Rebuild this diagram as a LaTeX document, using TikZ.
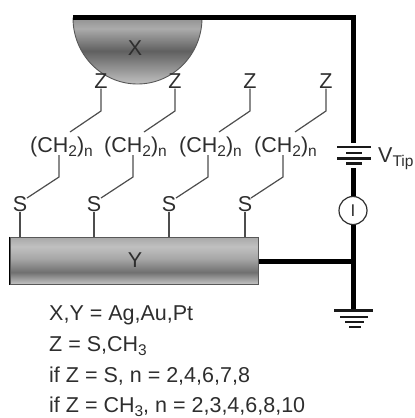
\documentclass[tikz,border=0pt]{standalone}
\usepackage{fontspec}
\setmainfont{Liberation Sans}
\definecolor{tipgrayA}{HTML}{929292}
\definecolor{tipgrayC}{HTML}{ABABAB}
\definecolor{tipgrayD}{HTML}{606060}
\definecolor{tipgrayE}{HTML}{C0C0C0}
\definecolor{bara}{HTML}{A8A8A8}
\definecolor{barb}{HTML}{C0C0C0}
\definecolor{barc}{HTML}{A8A8A8}
\definecolor{bard}{HTML}{707070}
\definecolor{bare}{HTML}{C2C2C2}
\definecolor{ink}{HTML}{2E2E2E}
% the bounding box of a shaded path maps to 25bp..75bp (bottom to top)
\pgfdeclareverticalshading{tipshade}{100bp}{
 color(0bp)=(tipgrayE); color(25bp)=(tipgrayE); color(50bp)=(tipgrayD); color(67bp)=(tipgrayC); color(75bp)=(tipgrayA); color(100bp)=(tipgrayA)}
\pgfdeclareverticalshading{barshade}{100bp}{
 color(0bp)=(bare); color(25bp)=(bare); color(37.5bp)=(bard); color(52.5bp)=(barc); color(65bp)=(barb); color(75bp)=(bara); color(100bp)=(bara)}
\newcommand{\lowered}[1]{\raisebox{-4pt}{\fontsize{15.5}{15.5}\selectfont #1}}
\tikzset{
 x=1pt,y=-1pt,
 lbl/.style={font=\fontsize{21.5}{21.5}\selectfont,text=ink,inner sep=0pt},
 notes/.style={lbl,anchor=base west},
 chain/.style={draw=ink!85,line width=1.2pt,line join=miter},
 wire/.style={draw=black,line width=5pt,line join=miter},
 plate/.style={line width=2.2pt,draw=black!90},
 meter/.style={circle,draw=ink,line width=1.2pt,fill=white,minimum size=28pt,inner sep=0pt,font=\fontsize{17}{17}\selectfont,text=ink}
}
\begin{document}
\begin{tikzpicture}
\useasboundingbox (0,0) rectangle (415,418);
% tip and substrate
\path[shading=tipshade,draw=ink!80,line width=.9pt] (73,18) arc[start angle=180,end angle=360,x radius=64.5,y radius=-66] -- cycle;
\node[rectangle,minimum width=248pt,minimum height=47pt,shading=barshade,draw=ink!80,line width=1pt,inner sep=0pt] (ybar) at (134,260.5) {};
\draw[black,line width=1.4pt] (ybar.north west) -- (ybar.south west);
\node[lbl] (xl) at (135,48) {X};
\node[lbl] (yl) at (135,260) {Y};
% chains
\foreach \i/\zx/\cx/\sx in {1/101/59/20,2/175/133/94,3/250/208/169,4/326/283/245}{
 \node[lbl] (z\i) at (\zx,81) {Z};
 \node[lbl,anchor=base west] (ch\i) at (\cx-29,152) {(CH\lowered{2})\lowered{n}};
 \node[lbl] (s\i) at (\sx,204) {S};
 \coordinate (a\i) at (\zx,111);
 \coordinate (b\i) at (\zx-31,132);
 \coordinate (c\i) at (\cx,155);
 \coordinate (d\i) at (\cx,177);
 \coordinate (e\i) at (\cx-32,198);
 \coordinate (f\i) at (\sx,237);
 \draw[chain] (z\i.south) -- (a\i) -- (b\i);
 \draw[chain] (c\i) -- (d\i) -- (e\i);
 \draw[chain] (s\i.south) -- (f\i);
}
% circuit
\coordinate (tl) at (73,17);
\coordinate (tr) at (353,17);
\coordinate (bt) at (353,143);
\coordinate (bb) at (353,168);
\node[meter] (m) at (353,210.5) {I};
\coordinate (gnd) at (353,310);
\coordinate (jn) at (353,261);
\draw[wire] (tl) -- (tr) -- (bt);
\draw[wire] (bb) -- (m);
\draw[wire] (m) -- (gnd);
\draw[wire] (ybar.east |- jn) -- (jn);
% battery
\foreach \y/\l/\r in {147/337/371,153/346/362,158.5/337/371,163.5/346/362}
 \draw[plate] (\l,\y) -- (\r,\y);
\node[notes] (vt) at (378,162) {V\lowered{Tip}};
% ground
\foreach \y/\l/\r in {310.5/334/373,317/340/368,322/345/364,327/349/361}
 \draw[plate] (\l,\y) -- (\r,\y);
% notes
\node[notes] (n1) at (49,320) {X,Y = Ag,Au,Pt};
\node[notes] (n2) at (49,351) {Z = S,CH\lowered{3}};
\node[notes] (n3) at (49,382) {if Z = S, n = 2,4,6,7,8};
\node[notes] (n4) at (49,412) {if Z = CH\lowered{3}, n = 2,3,4,6,8,10};
\end{tikzpicture}
\end{document}
